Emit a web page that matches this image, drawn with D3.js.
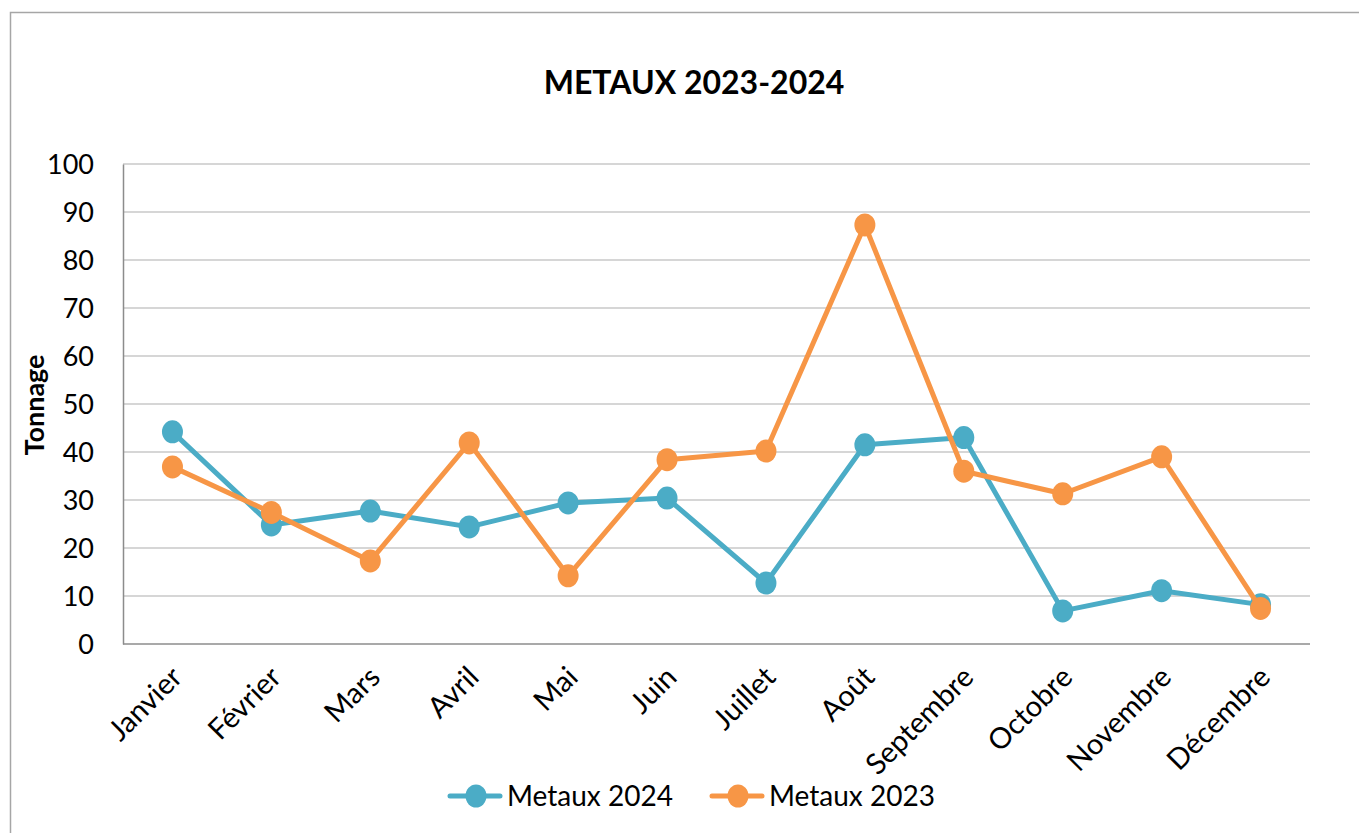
<!DOCTYPE html>
<html>
<head>
  <meta charset="utf-8">
  <title>METAUX 2023-2024</title>
  <script src="https://d3js.org/d3.v7.min.js"></script>
  <style>
    body { margin: 0; background: #fff; }
    text { font-family: Lato, "Open Sans", sans-serif; fill: #000; }
  </style>
</head>
<body>
  <svg width="1359" height="833"></svg>
  <script>
    var months = ["Janvier", "Février", "Mars", "Avril", "Mai", "Juin", "Juillet", "Août",
                  "Septembre", "Octobre", "Novembre", "Décembre"];
    var metaux2024 = [44.2, 24.8, 27.7, 24.4, 29.4, 30.4, 12.7, 41.5, 43.0, 6.9, 11.1, 8.2];
    var metaux2023 = [36.9, 27.4, 17.3, 41.9, 14.2, 38.4, 40.2, 87.3, 36.0, 31.3, 39.0, 7.4];
    var yTicks = [0, 10, 20, 30, 40, 50, 60, 70, 80, 90, 100];
    var seriesNames = ["Metaux 2024", "Metaux 2023"];
    var colors = ["#4bacc6", "#f79646"];

    var svg = d3.select("svg");
    var plotL = 123, plotR = 1310, plotT = 164, plotB = 644;

    // chart frame
    svg.append("rect")
      .attr("x", 10.5).attr("y", 12.5)
      .attr("width", 1400).attr("height", 900)
      .attr("fill", "none").attr("stroke", "#a6a6a6").attr("stroke-width", 1.5);

    var x = d3.scalePoint().domain(months).range([plotL, plotR]).padding(0.5);
    var y = d3.scaleLinear().domain([0, 100]).range([plotB, plotT]);

    // gridlines
    svg.append("g")
      .selectAll("line")
      .data(yTicks.filter(function(d) { return d > 0; }))
      .enter().append("line")
      .attr("x1", plotL).attr("x2", plotR)
      .attr("y1", function(d) { return y(d); }).attr("y2", function(d) { return y(d); })
      .attr("stroke", "#c8c8c8").attr("stroke-width", 1.5);

    // y axis
    var yAxis = svg.append("g")
      .attr("transform", "translate(" + plotL + ",0)")
      .call(d3.axisLeft(y).tickValues(yTicks).tickSize(0).tickPadding(29));
    yAxis.select(".domain").attr("stroke", "#8c8c8c").attr("stroke-width", 1.5);
    yAxis.selectAll("text").style("font-size", "27px").attr("dy", "0.35em");

    // x axis
    var xAxis = svg.append("g")
      .attr("transform", "translate(0," + plotB + ")")
      .call(d3.axisBottom(x).tickSize(0).tickSizeOuter(0));
    xAxis.select(".domain").attr("d", "M" + plotL + ",0H" + plotR)
      .attr("stroke", "#8c8c8c").attr("stroke-width", 1.5);
    xAxis.selectAll("text")
      .style("font-size", "29px")
      .attr("text-anchor", "end")
      .attr("dy", null).attr("y", 0)
      .attr("transform", "translate(11,35) rotate(-45)");

    // axis title
    svg.append("text")
      .attr("transform", "translate(44,405) rotate(-90)")
      .attr("text-anchor", "middle")
      .style("font-size", "27px").style("font-weight", "bold")
      .text("Tonnage");

    // chart title
    svg.append("text")
      .attr("x", 694).attr("y", 94)
      .attr("text-anchor", "middle")
      .style("font-size", "32px").style("font-weight", "bold")
      .text("METAUX 2023-2024");

    var line = d3.line()
      .x(function(d, i) { return x(months[i]); })
      .y(function(d) { return y(d); });

    [metaux2024, metaux2023].forEach(function(vals, k) {
      var g = svg.append("g");
      g.append("path")
        .attr("d", line(vals))
        .attr("fill", "none").attr("stroke", colors[k]).attr("stroke-width", 5)
        .attr("stroke-linejoin", "round");
      g.selectAll("ellipse")
        .data(vals)
        .enter().append("ellipse")
        .attr("cx", function(d, i) { return x(months[i]); })
        .attr("cy", function(d) { return y(d); })
        .attr("rx", 10.5).attr("ry", 11.5)
        .attr("fill", colors[k]);
    });

    // legend
    var legendX = [450, 712];
    seriesNames.forEach(function(name, k) {
      var lg = svg.append("g").attr("transform", "translate(" + legendX[k] + ",796)");
      lg.append("line").attr("x1", 0).attr("x2", 50).attr("y1", 0).attr("y2", 0)
        .attr("stroke", colors[k]).attr("stroke-width", 5).attr("stroke-linecap", "round");
      lg.append("ellipse").attr("cx", 26).attr("cy", 0).attr("rx", 10.5).attr("ry", 11.5)
        .attr("fill", colors[k]);
      lg.append("text").attr("x", 57).attr("y", 10)
        .style("font-size", "28px").text(name);
    });
  </script>
</body>
</html>
